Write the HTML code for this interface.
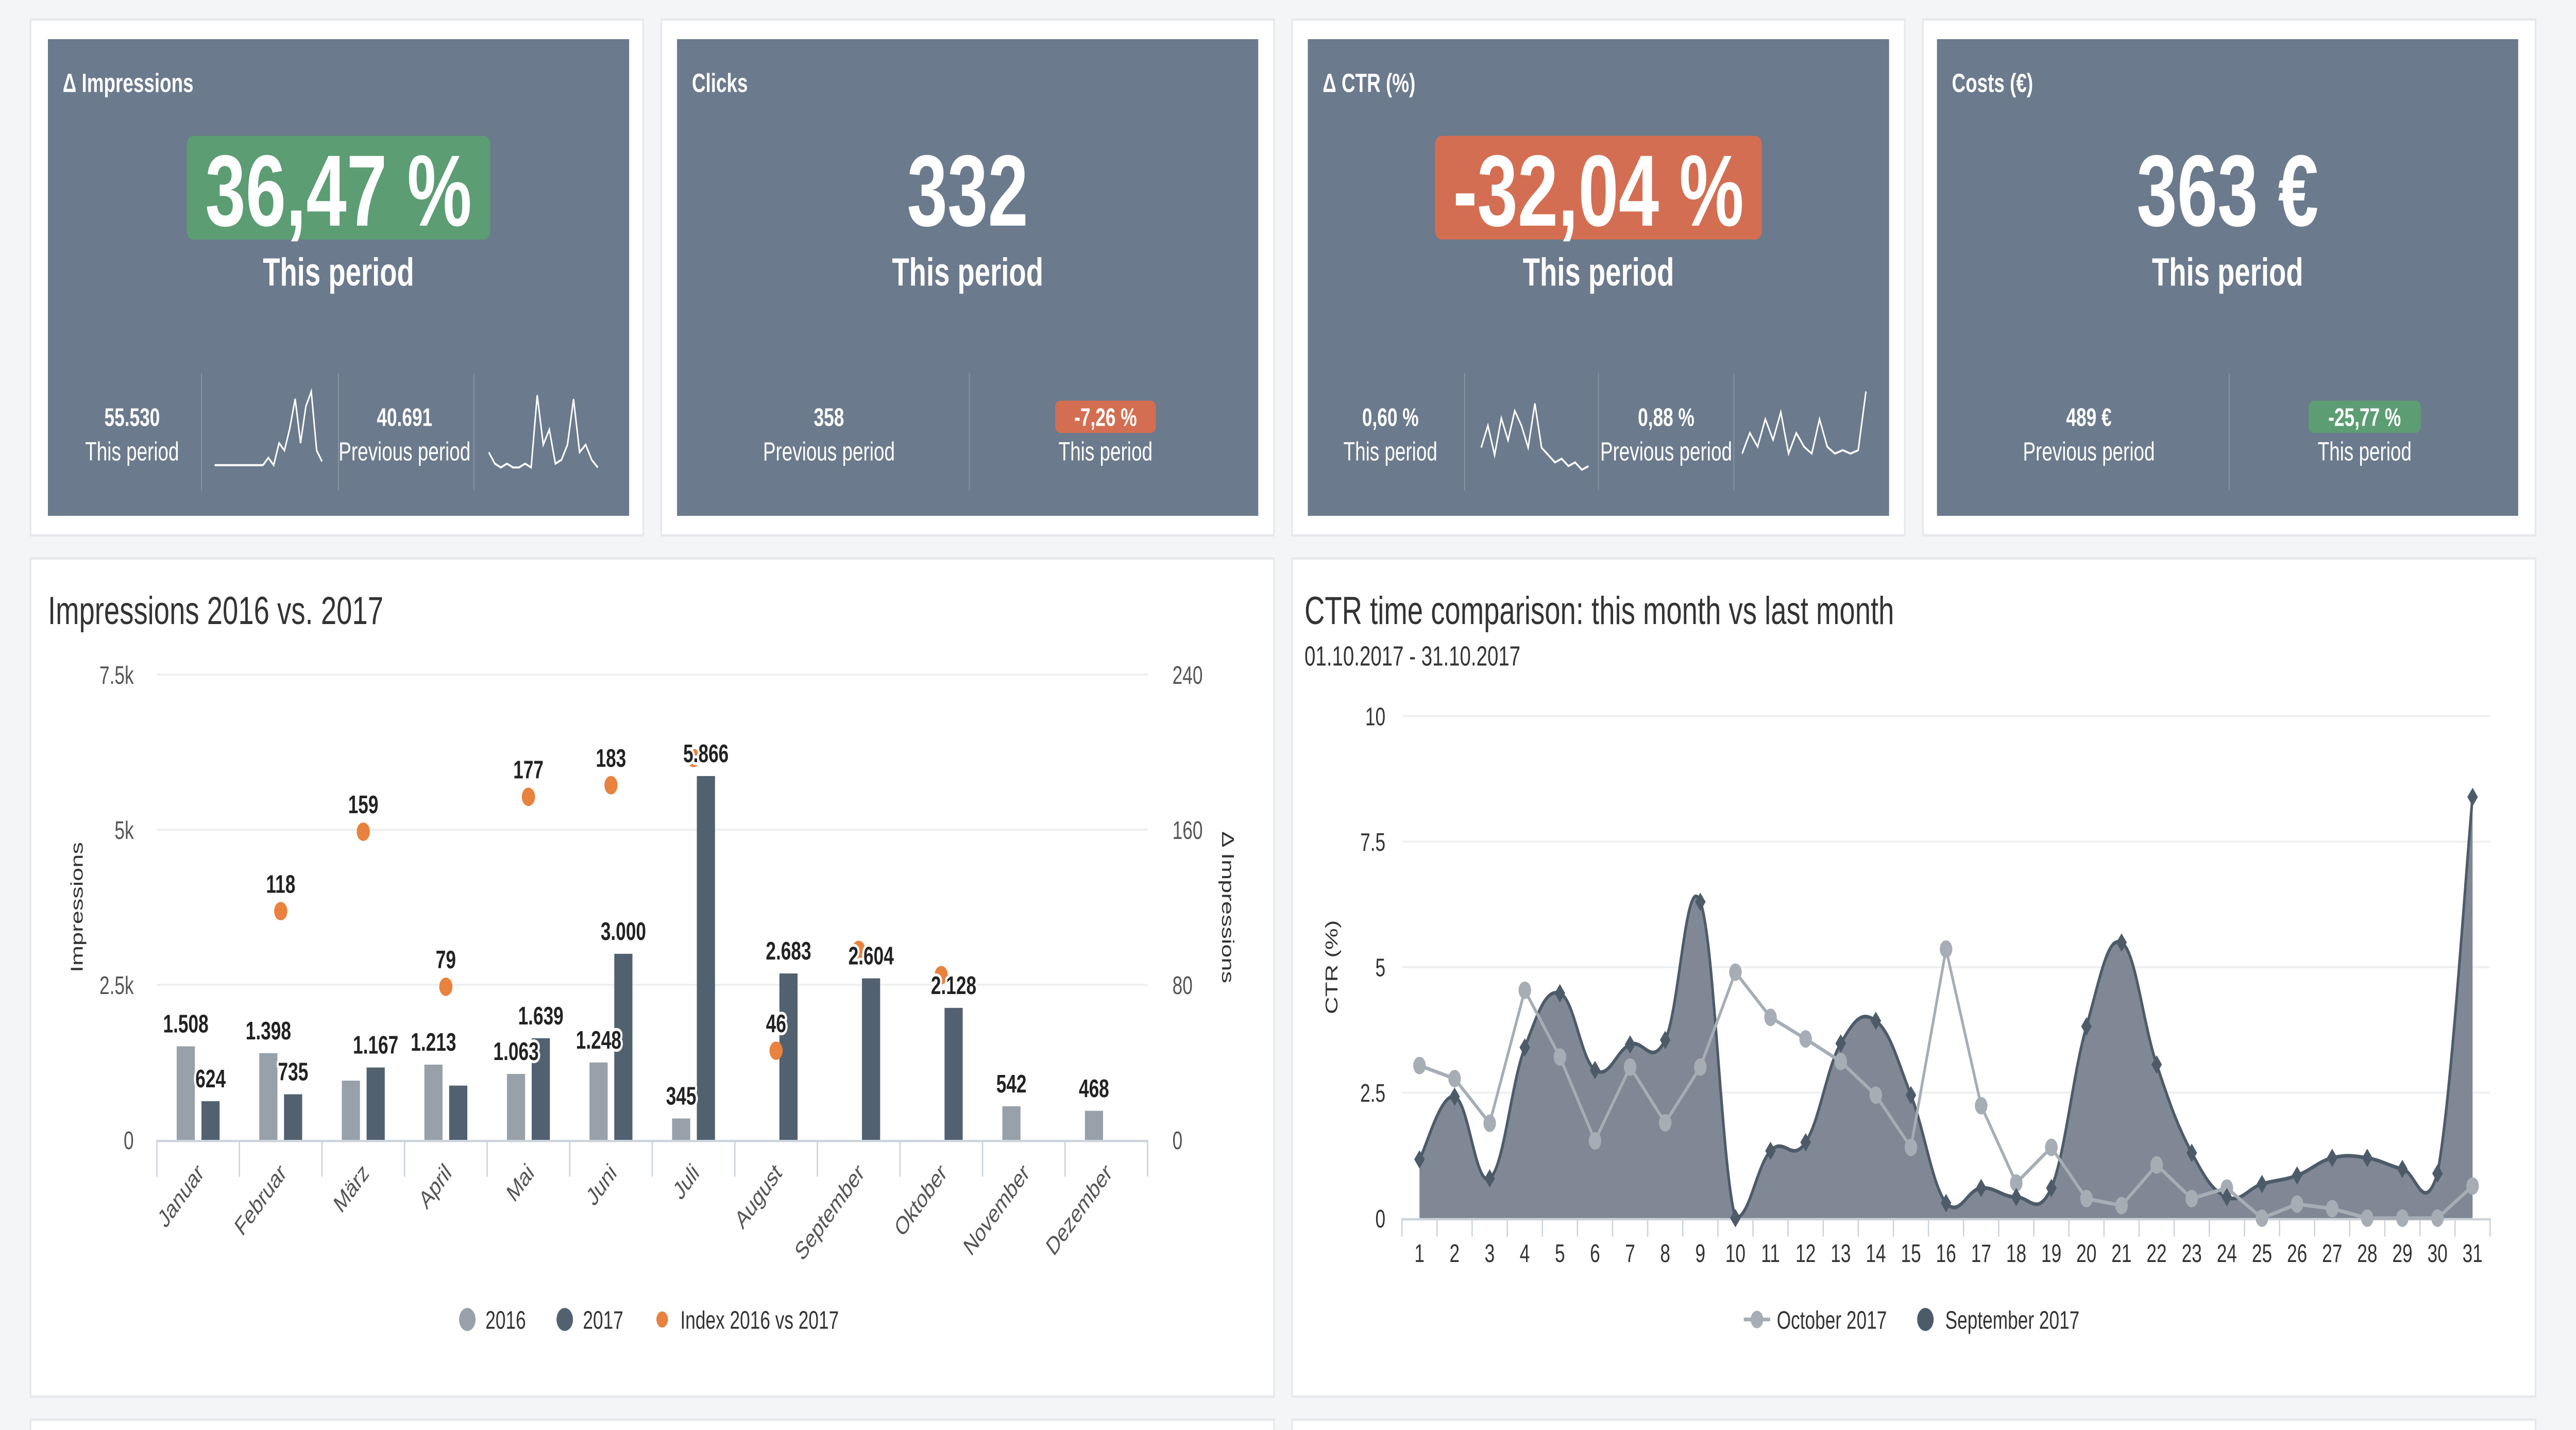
<!DOCTYPE html>
<html><head><meta charset="utf-8"><style>
html,body{margin:0;padding:0;background:#f4f5f7;width:100%;height:100%;overflow:hidden;}
svg#root{display:block;position:absolute;left:0;top:0;width:100vw;height:100vh;font-family:"Liberation Sans",sans-serif;}
</style></head><body>
<svg id="root" viewBox="0 0 1560 621" preserveAspectRatio="none" xmlns="http://www.w3.org/2000/svg">
<rect x="0" y="0" width="1560" height="621" fill="#f4f5f7"/>
<g>
<rect x="18.5" y="8.5" width="371" height="224" fill="#fff" stroke="#e6e8eb"/>
<rect x="29" y="17" width="352" height="207" fill="#6b7a8c"/>
<text x="38" y="40" fill="#fff" font-size="11.5" font-weight="bold">Δ Impressions</text>
<rect x="113" y="59" width="184" height="45" rx="4" fill="#5c9d73"/>
<text x="205" y="98" fill="#fff" font-size="44" font-weight="bold" text-anchor="middle">36,47 %</text>
<text x="205" y="124" fill="#fff" font-size="17" font-weight="bold" text-anchor="middle">This period</text>
<line x1="122" y1="162" x2="122" y2="213" stroke="#8794a3" stroke-width="0.6"/>
<line x1="205" y1="162" x2="205" y2="213" stroke="#8794a3" stroke-width="0.6"/>
<line x1="287" y1="162" x2="287" y2="213" stroke="#8794a3" stroke-width="0.6"/>
<text x="80" y="185" fill="#fff" font-size="11" font-weight="bold" text-anchor="middle">55.530</text>
<text x="80" y="200" fill="#fff" font-size="11.5" text-anchor="middle">This period</text>
<text x="245" y="185" fill="#fff" font-size="11" font-weight="bold" text-anchor="middle">40.691</text>
<text x="245" y="200" fill="#fff" font-size="11.5" text-anchor="middle">Previous period</text>
<polyline id="sp1" fill="none" stroke="#fff" stroke-width="0.9"/>
<polyline id="sp2" fill="none" stroke="#fff" stroke-width="0.9"/>
</g>
<g>
<rect x="400.5" y="8.5" width="371" height="224" fill="#fff" stroke="#e6e8eb"/>
<rect x="410" y="17" width="352" height="207" fill="#6b7a8c"/>
<text x="419" y="40" fill="#fff" font-size="11.5" font-weight="bold">Clicks</text>
<text x="586" y="98" fill="#fff" font-size="44" font-weight="bold" text-anchor="middle">332</text>
<text x="586" y="124" fill="#fff" font-size="17" font-weight="bold" text-anchor="middle">This period</text>
<line x1="587" y1="162" x2="587" y2="213" stroke="#8794a3" stroke-width="0.6"/>
<text x="502" y="185" fill="#fff" font-size="11" font-weight="bold" text-anchor="middle">358</text>
<text x="502" y="200" fill="#fff" font-size="11.5" text-anchor="middle">Previous period</text>
<rect x="639" y="174" width="61" height="14" rx="3" fill="#d46e52"/>
<text x="669.5" y="185" fill="#fff" font-size="11" font-weight="bold" text-anchor="middle">-7,26 %</text>
<text x="669.5" y="200" fill="#fff" font-size="11.5" text-anchor="middle">This period</text>
</g>
<g>
<rect x="782.5" y="8.5" width="371" height="224" fill="#fff" stroke="#e6e8eb"/>
<rect x="792" y="17" width="352" height="207" fill="#6b7a8c"/>
<text x="801" y="40" fill="#fff" font-size="11.5" font-weight="bold">Δ CTR (%)</text>
<rect x="869" y="59" width="198" height="45" rx="4" fill="#d46e52"/>
<text x="968" y="98" fill="#fff" font-size="44" font-weight="bold" text-anchor="middle">-32,04 %</text>
<text x="968" y="124" fill="#fff" font-size="17" font-weight="bold" text-anchor="middle">This period</text>
<line x1="887" y1="162" x2="887" y2="213" stroke="#8794a3" stroke-width="0.6"/>
<line x1="968" y1="162" x2="968" y2="213" stroke="#8794a3" stroke-width="0.6"/>
<line x1="1050" y1="162" x2="1050" y2="213" stroke="#8794a3" stroke-width="0.6"/>
<text x="842" y="185" fill="#fff" font-size="11" font-weight="bold" text-anchor="middle">0,60 %</text>
<text x="842" y="200" fill="#fff" font-size="11.5" text-anchor="middle">This period</text>
<text x="1009" y="185" fill="#fff" font-size="11" font-weight="bold" text-anchor="middle">0,88 %</text>
<text x="1009" y="200" fill="#fff" font-size="11.5" text-anchor="middle">Previous period</text>
<polyline id="sp3" fill="none" stroke="#fff" stroke-width="0.9"/>
<polyline id="sp4" fill="none" stroke="#fff" stroke-width="0.9"/>
</g>
<g>
<rect x="1164.5" y="8.5" width="371" height="224" fill="#fff" stroke="#e6e8eb"/>
<rect x="1173" y="17" width="352" height="207" fill="#6b7a8c"/>
<text x="1182" y="40" fill="#fff" font-size="11.5" font-weight="bold">Costs (€)</text>
<text x="1349" y="98" fill="#fff" font-size="44" font-weight="bold" text-anchor="middle">363 €</text>
<text x="1349" y="124" fill="#fff" font-size="17" font-weight="bold" text-anchor="middle">This period</text>
<line x1="1350" y1="162" x2="1350" y2="213" stroke="#8794a3" stroke-width="0.6"/>
<text x="1265" y="185" fill="#fff" font-size="11" font-weight="bold" text-anchor="middle">489 €</text>
<text x="1265" y="200" fill="#fff" font-size="11.5" text-anchor="middle">Previous period</text>
<rect x="1398" y="174" width="68" height="14" rx="3" fill="#5c9d73"/>
<text x="1432" y="185" fill="#fff" font-size="11" font-weight="bold" text-anchor="middle">-25,77 %</text>
<text x="1432" y="200" fill="#fff" font-size="11.5" text-anchor="middle">This period</text>
</g>
<rect x="18.5" y="242.5" width="753" height="364" fill="#fff" stroke="#e6e8eb"/>
<rect x="782.5" y="242.5" width="753" height="364" fill="#fff" stroke="#e6e8eb"/>
<rect x="18.5" y="616.5" width="753" height="20" fill="#fff" stroke="#e6e8eb"/>
<rect x="782.5" y="616.5" width="753" height="20" fill="#fff" stroke="#e6e8eb"/>
<text x="29" y="271" font-size="17" fill="#333">Impressions 2016 vs. 2017</text>
<text x="790" y="271" font-size="17" fill="#333">CTR time comparison: this month vs last month</text>
<text x="790" y="289" font-size="12" fill="#333">01.10.2017 - 31.10.2017</text>
<g id="c1"></g>
<g id="c2"></g>
</svg>
<script>
// ---------- Chart 1 data ----------
const months = ["Januar","Februar","März","April","Mai","Juni","Juli","August","September","Oktober","November","Dezember"];
const v2016 = [1508,1398,955,1213,1063,1248,345,null,null,null,542,468];
const v2017 = [624,735,1167,875,1639,3000,5866,2683,2604,2128,null,null];
const show2016 = [1,1,0,1,1,1,1,0,0,0,1,1];
const show2017 = [1,1,1,0,1,1,1,1,1,1,0,0];
const indexVals = [null,118,159,79,177,183,197,46,98,85,null,null];
const showIndex = [0,1,1,1,1,1,0,1,0,0,0,0];
const leftTicks = [0,2500,5000,7500];
const leftTickLabels = ["0","2.5k","5k","7.5k"];
const rightTicks = [0,80,160,240];
// ---------- Chart 2 data ----------
const days = Array.from({length:31},(_, i)=>String(i+1));
const october = [3.04,2.78,1.89,4.54,3.21,1.54,3.01,1.9,3.01,4.9,4.0,3.57,3.12,2.45,1.41,5.36,2.24,0.7,1.41,0.39,0.25,1.06,0.39,0.6,0,0.28,0.19,0,0,0,0.64];
const september = [1.17,2.42,0.79,3.4,4.48,2.95,3.46,3.55,6.3,0,1.34,1.51,3.48,3.93,2.45,0.3,0.6,0.42,0.6,3.82,5.49,3.06,1.3,0.42,0.68,0.85,1.2,1.2,0.98,0.89,8.39];
const ctrTicks = [0,2.5,5,7.5,10];
const ctrTickLabels = ["0","2.5","5","7.5","10"];
const spark1 = [0,0,0,0,0,0,0,0,0,0,0.1,0,0.3,0.2,0.5,0.9,0.3,0.8,1,0.2,0.05];
const spark2 = [0.2,0.05,0,0.05,0,0,0.05,0,0.95,0.3,0.5,0.05,0.1,0.3,0.9,0.2,0.3,0.1,0];
const spark3 = [0.3,0.6,0.2,0.7,0.4,0.8,0.6,0.3,0.9,0.3,0.2,0.1,0.15,0.05,0.1,0,0.05];
const spark4 = [0.1,0.4,0.2,0.6,0.3,0.7,0.1,0.4,0.2,0.1,0.6,0.2,0.1,0.15,0.1,0.15,1];

const NS="http://www.w3.org/2000/svg";
function mk(tag, attrs, parent, txt){const e=document.createElementNS(NS,tag);for(const k in attrs)e.setAttribute(k,attrs[k]);if(txt!==undefined)e.textContent=txt;parent.appendChild(e);return e;}
function fmt(v){return String(v).replace(/\B(?=(\d{3})+(?!\d))/g,".");}

function spark(id,data,x0,x1,yTop,yBot){
  const el=document.getElementById(id);
  const pts=data.map((d,i)=>[x0+(x1-x0)*i/(data.length-1), yBot-(yBot-yTop)*d]);
  el.setAttribute('points',pts.map(p=>p.join(',')).join(' '));
}
spark('sp1',spark1,130,195,170,202);
spark('sp2',spark2,296,362,170,203);
spark('sp3',spark3,897,962,172,204);
spark('sp4',spark4,1055,1130,170,200);

(function(){
  const g=document.getElementById('c1');
  const L=95,R=695,T=293,B=495;
  const band=(R-L)/months.length;
  const y=v=>B-(B-T)*v/7500;
  const yr=v=>B-(B-T)*v/240;
  const cx=i=>L+band*(i+0.5);
  leftTicks.forEach((t,i)=>{
    if(t>0){const l=mk('line',{x1:L,x2:R,y1:y(t),y2:y(t),stroke:'#eceef0','stroke-width':0.8},g);
    
    }
    const tx=mk('text',{x:81,y:y(t)+4,'font-size':11,fill:'#555','text-anchor':'end'},g,leftTickLabels[i]);
    
    
  });
  rightTicks.forEach(t=>{
    const tx=mk('text',{x:710,y:yr(t)+4,'font-size':11,fill:'#555'},g,String(t));
    
    
  });
  mk('line',{x1:L,x2:R,y1:B+0.5,y2:B+0.5,stroke:'#ccd3da','stroke-width':1},g);
  for(let i=0;i<=months.length;i++) mk('line',{x1:L+band*i,x2:L+band*i,y1:B,y2:B+16,stroke:'#ccd3da','stroke-width':0.8},g);
  const lbls=[];
  months.forEach((m,i)=>{
    if(v2016[i]!=null){const r=mk('rect',{x:cx(i)-13,y:y(v2016[i]),width:11,height:B-y(v2016[i]),fill:'#98a1a9'},g);
      
      
      if(show2016[i])lbls.push([cx(i)-7.5,y(v2016[i])-6,fmt(v2016[i])]);}
    if(v2017[i]!=null){const r=mk('rect',{x:cx(i)+2,y:y(v2017[i]),width:11,height:B-y(v2017[i]),fill:'#526170'},g);
      
      
      if(show2017[i])lbls.push([cx(i)+7.5,y(v2017[i])-6,fmt(v2017[i])]);}
    const t=mk('text',{x:cx(i)+4,y:B+15,'font-size':11,fill:'#555','text-anchor':'end',transform:`rotate(-45 ${cx(i)+4} ${B+15})`},g,m);
    
    
  });
  months.forEach((m,i)=>{
    if(indexVals[i]==null)return;
    const c=mk('circle',{cx:cx(i),cy:yr(indexVals[i]),r:4,fill:'#e8823e'},g);
    
    
    if(showIndex[i])lbls.push([cx(i),yr(indexVals[i])-8,String(indexVals[i])]);
  });
  lbls.forEach(l=>{
    const t=mk('text',{x:l[0],y:l[1],'font-size':11,'font-weight':'bold',fill:'#222','text-anchor':'middle',stroke:'#fff','stroke-width':2.5,'paint-order':'stroke','stroke-linejoin':'round'},g,l[2]);
    
    
  });
  const a1=mk('text',{x:50,y:(T+B)/2,'font-size':10.5,fill:'#333','text-anchor':'middle',transform:`rotate(-90 50 ${(T+B)/2})`},g,'Impressions');
  
  
  const a2=mk('text',{x:740,y:(T+B)/2,'font-size':10.5,fill:'#333','text-anchor':'middle',transform:`rotate(90 740 ${(T+B)/2})`},g,'Δ Impressions');
  
  
  const lg=[[283,'#98a1a9',5,'2016'],[342,'#526170',5,'2017'],[401,'#e8823e',3.5,'Index 2016 vs 2017']];
  lg.forEach(e=>{
    const c=mk('circle',{cx:e[0],cy:573,r:e[2],fill:e[1]},g);
    
    
    const t=mk('text',{x:e[0]+11,y:577,'font-size':11,fill:'#333'},g,e[3]);
    
    
  });
})();

(function(){
  const g=document.getElementById('c2');
  const L=849,R=1508,T=311,B=529;
  const band=(R-L)/days.length;
  const x=i=>L+band*(i+0.5);
  const y=v=>B-(B-T)*v/10;
  ctrTicks.forEach((t,i)=>{
    if(t>0){const l=mk('line',{x1:L,x2:R,y1:y(t),y2:y(t),stroke:'#eceef0','stroke-width':0.8},g);
      
      }
    const tx=mk('text',{x:839,y:y(t)+4,'font-size':11,fill:'#333','text-anchor':'end'},g,ctrTickLabels[i]);
    
    
  });
  const P=september.map((v,i)=>[x(i),y(v)]);
  let d=`M${P[0][0]},${P[0][1]}`;
  for(let i=0;i<P.length-1;i++){
    const p0=P[Math.max(0,i-1)],p1=P[i],p2=P[i+1],p3=P[Math.min(P.length-1,i+2)];
    const k=1/5;
    let c1=[p1[0]+(p2[0]-p0[0])*k,p1[1]+(p2[1]-p0[1])*k];
    let c2=[p2[0]-(p3[0]-p1[0])*k,p2[1]-(p3[1]-p1[1])*k];
    c1[1]=Math.min(c1[1],B);c2[1]=Math.min(c2[1],B);
    d+=` C${c1[0]},${c1[1]} ${c2[0]},${c2[1]} ${p2[0]},${p2[1]}`;
  }
  const area=mk('path',{d:d+` L${P[P.length-1][0]},${B} L${P[0][0]},${B} Z`,fill:'#7f8894'},g);
  
  
  const line=mk('path',{d:d,fill:'none',stroke:'#4d5b69','stroke-width':1.6},g);
  
  
  mk('line',{x1:L,x2:R,y1:B+0.5,y2:B+0.5,stroke:'#ccd3da','stroke-width':1},g);
  for(let i=0;i<=days.length;i++) mk('line',{x1:L+band*i,x2:L+band*i,y1:B,y2:B+8,stroke:'#ccd3da','stroke-width':0.8},g);
  days.forEach((dd,i)=>{
    const t=mk('text',{x:x(i),y:548,'font-size':11,fill:'#333','text-anchor':'middle'},g,dd);
    
    
  });
  const oct=mk('polyline',{points:october.map((v,i)=>x(i)+','+y(v)).join(' '),fill:'none',stroke:'#a6adb5','stroke-width':1.6},g);
  
  
  october.forEach((v,i)=>{
    const c=mk('circle',{cx:x(i),cy:y(v),r:3.8,fill:'#a6adb5'},g);
    
    
  });
  september.forEach((v,i)=>{
    const px=x(i),py=y(v);
    const c=mk('path',{d:`M${px},${py-4} L${px+3.2},${py} L${px},${py+4} L${px-3.2},${py} Z`,fill:'#4d5b69'},g);
    
    
  });
  const at=mk('text',{x:810,y:420,'font-size':10.5,fill:'#333','text-anchor':'middle',transform:'rotate(-90 810 420)'},g,'CTR (%)');
  
  
  mk('line',{x1:1056,x2:1072,y1:573,y2:573,stroke:'#a6adb5','stroke-width':1.6},g);
  const m1=mk('circle',{cx:1064,cy:573,r:3.8,fill:'#a6adb5'},g);
  
  
  const t1=mk('text',{x:1076,y:577,'font-size':11,fill:'#333'},g,'October 2017');
  
  
  const m2=mk('circle',{cx:1166,cy:573,r:5,fill:'#4d5b69'},g);
  
  
  const t2=mk('text',{x:1178,y:577,'font-size':11,fill:'#333'},g,'September 2017');
  
  
})();
</script>
</body></html>
